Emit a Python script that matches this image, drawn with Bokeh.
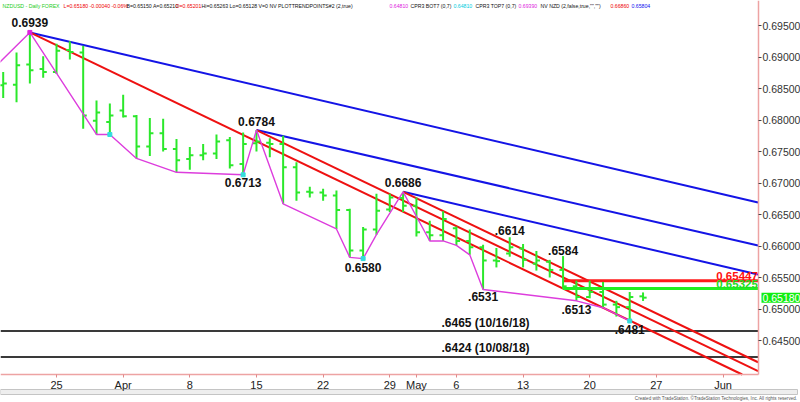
from bokeh.plotting import figure
from bokeh.models import Range1d, FixedTicker, PrintfTickFormatter, ColumnDataSource
from bokeh.core.properties import value
from bokeh.embed import file_html
from bokeh.resources import INLINE

# ---------------- data ----------------
dates = ["Mar 19", "Mar 20", "Mar 21", "Mar 22", "Mar 25", "Mar 26", "Mar 27", "Mar 28", "Mar 29",
         "Apr 1", "Apr 2", "Apr 3", "Apr 4", "Apr 5", "Apr 8", "Apr 9", "Apr 10", "Apr 11", "Apr 12",
         "Apr 15", "Apr 16", "Apr 17", "Apr 18", "Apr 19", "Apr 22", "Apr 23", "Apr 24", "Apr 25", "Apr 26",
         "Apr 29", "Apr 30", "May 1", "May 2", "May 3", "May 6", "May 7", "May 8", "May 9", "May 10",
         "May 13", "May 14", "May 15", "May 16", "May 17", "May 20", "May 21", "May 22", "May 23", "May 24"]
opens = [0.6855, 0.6856, 0.6888, 0.6881, 0.6876, 0.6911, 0.6907, 0.6799, 0.6797,
         0.6815, 0.6806, 0.6758, 0.6779, 0.6754, 0.6738, 0.6744, 0.6747, 0.6768, 0.6730,
         0.6763, 0.6764, 0.6762, 0.6725, 0.6686, 0.6685, 0.6680, 0.6657, 0.6593, 0.6626,
         0.6658, 0.6676, 0.6664, 0.6622, 0.6617, 0.6628, 0.6608, 0.6598, 0.6577, 0.6588,
         0.6596, 0.6572, 0.6575, 0.6562, 0.6536, 0.6519, 0.6527, 0.6507, 0.6503, 0.65201]
highs = [0.6876, 0.6907, 0.6939, 0.6901, 0.6921, 0.6925, 0.6918, 0.6831, 0.6826,
         0.6840, 0.6808, 0.6803, 0.6802, 0.6770, 0.6757, 0.6762, 0.6777, 0.6773, 0.6780,
         0.6784, 0.6771, 0.6775, 0.6733, 0.6694, 0.6691, 0.6688, 0.6659, 0.6630, 0.6683,
         0.6683, 0.6686, 0.6677, 0.6640, 0.6655, 0.6631, 0.6626, 0.6602, 0.6597, 0.6614,
         0.6603, 0.6592, 0.6578, 0.6584, 0.6545, 0.6545, 0.6543, 0.6513, 0.6527, 0.65263]
lows = [0.6835, 0.6828, 0.6858, 0.6867, 0.6873, 0.6896, 0.6786, 0.6777, 0.6777,
        0.6804, 0.6739, 0.6743, 0.6750, 0.6717, 0.6721, 0.6736, 0.6738, 0.6723, 0.6713,
        0.6750, 0.6741, 0.6667, 0.6672, 0.6677, 0.6672, 0.6627, 0.6582, 0.6580, 0.6618,
        0.6654, 0.6654, 0.6615, 0.6608, 0.6608, 0.6601, 0.6586, 0.6531, 0.6566, 0.6583,
        0.6566, 0.6561, 0.6550, 0.6532, 0.6513, 0.6517, 0.6502, 0.6488, 0.6481, 0.65128]
closes = [0.6858, 0.6887, 0.6879, 0.6876, 0.6910, 0.6908, 0.6807, 0.6812, 0.6807,
          0.6806, 0.6758, 0.6779, 0.6754, 0.6736, 0.6744, 0.6747, 0.6766, 0.6728, 0.6762,
          0.6766, 0.6762, 0.6725, 0.6685, 0.6685, 0.6680, 0.6657, 0.6593, 0.6626, 0.6656,
          0.6677, 0.6664, 0.6622, 0.6617, 0.6643, 0.6608, 0.6598, 0.6577, 0.6576, 0.6598,
          0.6578, 0.6577, 0.6562, 0.6536, 0.6519, 0.6527, 0.6507, 0.6503, 0.6519, 0.65180]

tick_index = [4, 9, 14, 19, 24, 29, 31, 34, 39, 44, 49, 54]
tick_labels = ["25", "Apr", "8", "15", "22", "29", "May", "6", "13", "20", "27", "Jun"]
price_ticks = [0.645, 0.650, 0.655, 0.660, 0.665, 0.670, 0.675, 0.680, 0.685, 0.690, 0.695]

# swing (trend points) line
zig_index = [-1, 2, 7, 8, 10, 13, 18, 19, 21, 25, 26, 27, 28, 30, 32, 33, 34, 35, 36, 43, 45, 47]
zig_price = [0.6876, 0.6939, 0.6777, 0.6777, 0.6739, 0.6717, 0.6713, 0.6784, 0.6667, 0.6627, 0.6582,
             0.6580, 0.6618, 0.6686, 0.6608, 0.6608, 0.6601, 0.6586, 0.6531, 0.6513, 0.6502, 0.6481]
low_mark_index = [8, 18, 27, 47]
low_mark_price = [0.6777, 0.6713, 0.6580, 0.6481]
high_mark_index = [2]
high_mark_price = [0.6939]

# trend lines (start pivot -> where they leave the plot)
blue_x0 = [2, 19, 30]
blue_y0 = [0.6939, 0.6784, 0.6686]
blue_x1 = [56.63, 56.63, 56.63]
blue_y1 = [0.66692, 0.66009, 0.65549]
red_x0 = [2, 19, 30]
red_y0 = [0.6939, 0.6784, 0.6686]
red_x1 = [55.44, 56.63, 56.63]
red_y1 = [0.6396, 0.64015, 0.64155]

# horizontal levels
old_low_prices = [0.6465, 0.6424]
old_low_texts = [".6465 (10/16/18)", ".6424 (10/08/18)"]
level_start = 42
resistance = 0.65447
support = 0.65325

pivot_index = [2, 19, 18, 27, 30, 38, 36, 42, 43, 47]
pivot_price = [0.6939, 0.6784, 0.6713, 0.6580, 0.6686, 0.6614, 0.6531, 0.6584, 0.6513, 0.6481]
pivot_text = ["0.6939", "0.6784", "0.6713", "0.6580", "0.6686", ".6614", ".6531", ".6584", ".6513", ".6481"]

header_parts = ["NZDUSD - Daily FOREX", "L=0.65180 -0.00040 -0.06%", "B=0.65150 A=0.65210",
                "O=0.65201", "Hi=0.65263 Lo=0.65128 V=0 NV PLOTTRENDPOINTS#2 (2,true)", "0.64810",
                "CPR3 BOT7 (0,7)", "0.64810", "CPR3 TOP7 (0,7)", "0.69390",
                "NV NZD (2,false,true,\"\",\"\")", "0.66860", "0.65804"]
footer_text = "Created with TradeStation. \u00a9TradeStation Technologies, Inc. All rights reserved."

# ---------------- geometry / styles ----------------
FIG_W, FIG_H = 800, 402
SX, SY = FIG_W / 800, FIG_H / 402          # reference px -> page px
BAR_PX = 13.33 * SX                         # px per trading day
FIRST_BAR_PX = 2.7 * SX                     # px of first bar
UNIT_PX = 6300 * SY                         # px per 1.0 of price
P695_PX = 25 * SY                           # px of price 0.695


def rx(x_ref):
    return (x_ref * SX - FIRST_BAR_PX) / BAR_PX


def ry(y_ref):
    return 0.695 - (y_ref * SY - P695_PX) / UNIT_PX


PLOT_RIGHT = rx(758)
PLOT_BOTTOM = ry(374)

header_x_ref = [2, 63, 126, 175, 201, 389, 410, 453, 475, 518, 540, 610, 631]
header_colors = ["#22cc22", "#ee0000", "#111111", "#ee0000", "#111111", "#dd22dd",
                 "#111111", "#00ccdd", "#111111", "#dd22dd", "#111111", "#ee0000", "#1010ee"]
pivot_dy_ref = [-10, -9, 7.5, 8.5, -9.5, -7, 7, -5.5, 8.5, 8.5]

BAR = "#2be82b"
FONT = "Liberation Sans"
AXIS_PINK = "#eda3a3"

p = figure(width=FIG_W, height=FIG_H, output_backend="svg", toolbar_location=None,
           x_range=Range1d(rx(0), rx(800)), y_range=Range1d(ry(402), ry(0)),
           y_axis_location="right", min_border=0,
           min_border_left=0, min_border_right=0, min_border_top=0, min_border_bottom=0)
p.background_fill_color = "white"
p.border_fill_color = "white"
p.outline_line_color = None
p.xgrid.visible = False
p.ygrid.visible = False

# axes (drawn at the chart's edges)
ya = p.yaxis[0]
ya.fixed_location = PLOT_RIGHT
ya.bounds = (PLOT_BOTTOM, ry(0))
ya.ticker = FixedTicker(ticks=price_ticks)
ya.formatter = PrintfTickFormatter(format="%.5f")
ya.axis_line_color = AXIS_PINK
ya.axis_line_width = 1.5
ya.major_tick_line_color = "#444444"
ya.major_tick_out = 3
ya.major_tick_in = 0
ya.minor_tick_line_color = None
ya.major_label_standoff = 1
ya.major_label_text_font = FONT
ya.major_label_text_font_size = "10.5px"
ya.major_label_text_color = "#333333"

xa = p.xaxis[0]
xa.fixed_location = PLOT_BOTTOM
xa.bounds = (rx(0), PLOT_RIGHT)
xa.ticker = FixedTicker(ticks=tick_index)
xa.major_label_overrides = {i: t for i, t in zip(tick_index, tick_labels)}
xa.axis_line_color = AXIS_PINK
xa.axis_line_width = 1.5
xa.major_tick_line_color = "#e08a8a"
xa.major_tick_out = 3
xa.major_tick_in = 0
xa.minor_tick_line_color = None
xa.major_label_standoff = 1
xa.major_label_text_font = FONT
xa.major_label_text_font_size = "11px"
xa.major_label_text_color = "#222222"

# old lows
n_old = len(old_low_prices)
p.segment(x0=[rx(0)] * n_old, y0=old_low_prices, x1=[PLOT_RIGHT] * n_old, y1=old_low_prices,
          line_color="#3a3a3a", line_width=2)

# trend lines
p.segment(x0=blue_x0, y0=blue_y0, x1=blue_x1, y1=blue_y1, line_color="#1414e6", line_width=2)
p.segment(x0=red_x0, y0=red_y0, x1=red_x1, y1=red_y1, line_color="#ee1111", line_width=2)

# resistance / support levels
p.segment(x0=[level_start], y0=[resistance], x1=[PLOT_RIGHT], y1=[resistance], line_color="#ff1a1a", line_width=3)
p.segment(x0=[level_start], y0=[support], x1=[PLOT_RIGHT], y1=[support], line_color="#22ee22", line_width=3)

# OHLC bars
idx = list(range(len(dates)))
src = ColumnDataSource(dict(x=idx, o=opens, h=highs, l=lows, c=closes,
                            xl=[i - 0.27 for i in idx], xr=[i + 0.27 for i in idx]))
p.segment(x0="x", y0="l", x1="x", y1="h", source=src, line_color=BAR, line_width=2)
p.segment(x0="xl", y0="o", x1="x", y1="o", source=src, line_color=BAR, line_width=2)
p.segment(x0="x", y0="c", x1="xr", y1="c", source=src, line_color=BAR, line_width=2)

# swing line
p.line(zig_index, zig_price, line_color="#dd3ddd", line_width=1.4)
p.scatter(low_mark_index, low_mark_price, marker="square", size=4, color="#33dddd")
p.scatter(high_mark_index, high_mark_price, marker="square", size=4, color="#dd22dd")

# pivot labels
p.text(x=pivot_index, y=pivot_price, text=pivot_text, y_offset=[d * SY for d in pivot_dy_ref],
       text_align="center", text_baseline="middle", text_font=value(FONT),
       text_font_style="bold", text_font_size="12px", text_color="#111111")
p.text(x=[rx(441)] * n_old, y=old_low_prices, text=old_low_texts, y_offset=-1.5,
       text_align="left", text_baseline="bottom", text_font=value(FONT),
       text_font_style="bold", text_font_size="12px", text_color="#111111")

# level value labels
p.text(x=[PLOT_RIGHT - 0.05], y=[resistance], text=[f"{resistance:.5f}"], y_offset=-1,
       text_align="right", text_baseline="bottom", text_font=value(FONT), text_font_style="bold",
       text_font_size="11.5px", text_color="#ff1010")
p.text(x=[PLOT_RIGHT - 0.05], y=[support], text=[f"{support:.5f}"], y_offset=-1,
       text_align="right", text_baseline="bottom", text_font=value(FONT), text_font_style="bold",
       text_font_size="11.5px", text_color="#22dd22")

# last price marker on the price axis
p.text(x=[PLOT_RIGHT], y=[closes[-1]], text=[f"{closes[-1]:.5f}"], x_offset=3,
       text_align="left", text_baseline="middle", text_font=value(FONT),
       text_font_size="10.5px", text_color="white",
       background_fill_color="#11ee11", padding=1, level="overlay")

# header
p.text(x=[rx(v) for v in header_x_ref], y=[ry(5)] * len(header_parts), text=header_parts,
       text_align="left", text_baseline="middle", text_font=value(FONT),
       text_font_size="5.2px", text_color=header_colors)

# scroll bar strip and footer
p.quad(left=[rx(0)], right=[rx(797)], bottom=[ry(394)], top=[ry(389)],
       fill_color="#eeeeee", line_color="#c4c4c4", line_width=1)
p.text(x=[rx(797)], y=[ry(398)], text=[footer_text], text_align="right", text_baseline="middle",
       text_font=value(FONT), text_font_size="4.6px", text_color="#555555")

open("out.html", "w").write(file_html(p, INLINE))
